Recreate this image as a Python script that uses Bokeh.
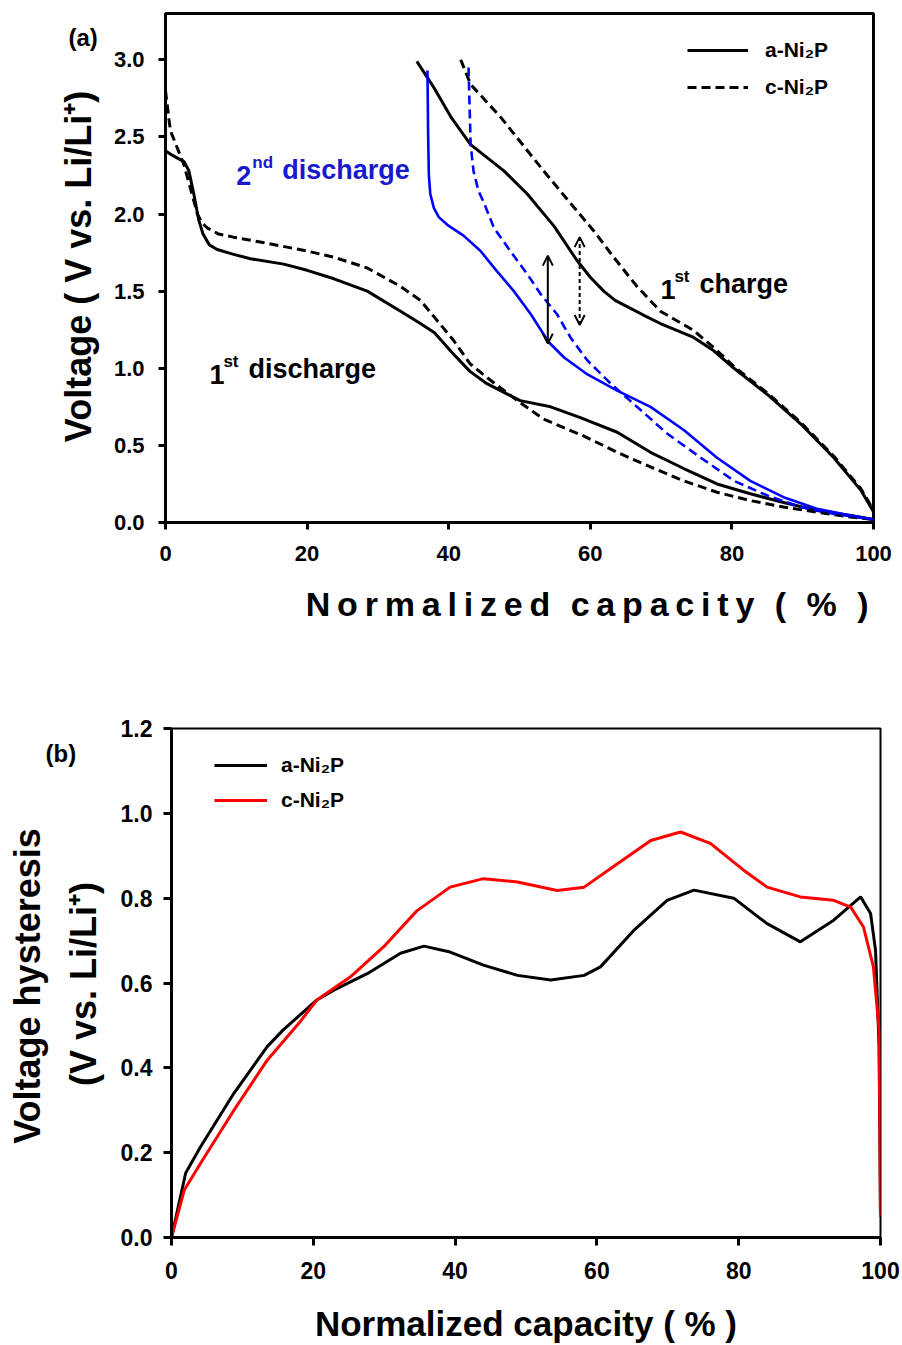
import math
from bokeh.plotting import figure
from bokeh.models import (Range1d, FixedTicker, NumeralTickFormatter, Label, Arrow, OpenHead,
                          Legend, LegendItem, Title)
from bokeh.layouts import column, row
from bokeh.embed import file_html
from bokeh.resources import INLINE

# ---------------- data: panel (a) ----------------
a_dis1_x = [0, 0, 1.0, 2.6, 3.3, 4.0, 4.7, 5.3, 6.2, 7.3, 9.5, 12, 16.7, 20, 23.8, 28.5, 33.2, 36, 38, 40.5, 43, 45.4, 50.1, 54.4, 58.6, 63.8, 68.5, 73.2, 77.9, 82.6, 87.3, 92, 96.8, 100]
a_dis1_v = [2.75, 2.41, 2.38, 2.34, 2.28, 2.13, 1.96, 1.87, 1.80, 1.77, 1.74, 1.71, 1.675, 1.635, 1.58, 1.50, 1.37, 1.29, 1.23, 1.10, 0.98, 0.90, 0.79, 0.75, 0.68, 0.585, 0.455, 0.35, 0.25, 0.186, 0.13, 0.078, 0.045, 0.02]

c_dis1_x = [0, 0.5, 0.7, 1.65, 2.6, 3.5, 4.5, 5.2, 5.9, 7.5, 9.6, 14.4, 20, 23.8, 28.5, 33.2, 36, 38, 40.7, 43, 45.4, 49.7, 53.4, 59.1, 63.8, 68.5, 73.2, 77.9, 82.6, 87.3, 92, 96.8, 100]
c_dis1_v = [2.80, 2.61, 2.54, 2.43, 2.32, 2.17, 2.0, 1.94, 1.91, 1.87, 1.85, 1.81, 1.76, 1.72, 1.65, 1.53, 1.44, 1.33, 1.18, 1.03, 0.94, 0.79, 0.67, 0.56, 0.455, 0.36, 0.27, 0.196, 0.142, 0.10, 0.067, 0.035, 0.02]

a_ch1_x = [35.5, 37.9, 40.3, 43.1, 47.8, 51.1, 54.9, 58.1, 60.0, 61.9, 63.5, 65.2, 67.5, 69.9, 74.6, 77.4, 80.3, 85, 89.7, 94.4, 98.2, 100]
a_ch1_v = [2.99, 2.82, 2.63, 2.45, 2.28, 2.13, 1.92, 1.70, 1.59, 1.50, 1.44, 1.40, 1.345, 1.29, 1.20, 1.115, 1.0, 0.83, 0.64, 0.42, 0.21, 0.07]

c_ch1_x = [41.7, 43.1, 47.3, 53.4, 57.2, 60.5, 63.3, 66.6, 69.9, 74.6, 77.9, 80.3, 85, 89.7, 94.4, 98.2, 100]
c_ch1_v = [3.0, 2.84, 2.63, 2.28, 2.07, 1.89, 1.72, 1.53, 1.37, 1.245, 1.115, 1.01, 0.84, 0.65, 0.43, 0.22, 0.08]

a_dis2_x = [37.0, 37.1, 37.2, 37.4, 37.9, 38.6, 39.8, 42.1, 44.5, 46.8, 49.2, 51.6, 54.1, 56.3, 59.6, 63.8, 68.5, 73.2, 77.9, 82.6, 87.3, 92, 96.8, 100]
a_dis2_v = [2.93, 2.50, 2.25, 2.13, 2.04, 1.98, 1.93, 1.86, 1.76, 1.63, 1.50, 1.35, 1.17, 1.07, 0.96, 0.855, 0.75, 0.60, 0.42, 0.27, 0.164, 0.089, 0.045, 0.02]

c_dis2_x = [42.8, 43.1, 43.5, 44.2, 45.0, 46.4, 48.7, 51.1, 53.0, 55.3, 57.2, 59.6, 62.9, 66.1, 70.9, 75.6, 80.3, 85, 89.7, 94.4, 100]
c_dis2_v = [2.95, 2.45, 2.28, 2.15, 2.07, 1.91, 1.76, 1.61, 1.48, 1.35, 1.20, 1.05, 0.90, 0.77, 0.575, 0.42, 0.27, 0.175, 0.10, 0.056, 0.02]

# hysteresis arrows (x position, low, high)
arrow_x = [54.0, 58.5]
arrow_lo = [1.16, 1.28]
arrow_hi = [1.73, 1.85]

a_ticks_x = [0, 20, 40, 60, 80, 100]
a_ticks_y = [0.0, 0.5, 1.0, 1.5, 2.0, 2.5, 3.0]

# ---------------- data: panel (b) ----------------
a_hys_x = [0, 2.0, 4.1, 8.8, 13.5, 15.8, 20.5, 22.9, 27.6, 32.3, 35.6, 39.3, 44, 48.8, 53.5, 58.2, 60.5, 65.2, 69.9, 73.7, 79.3, 84, 88.7, 93.4, 97.2, 98.6, 99.3, 99.8, 100]
a_hys_v = [0, 0.152, 0.214, 0.34, 0.45, 0.49, 0.56, 0.583, 0.622, 0.67, 0.687, 0.673, 0.642, 0.618, 0.607, 0.618, 0.638, 0.724, 0.795, 0.819, 0.80, 0.74, 0.697, 0.748, 0.803, 0.764, 0.677, 0.45, 0.05]

c_hys_x = [0, 1.8, 4.1, 8.8, 13.5, 18.2, 20.5, 25.2, 29.9, 34.6, 39.3, 44, 48.8, 54.4, 58.2, 62.9, 67.6, 71.8, 76, 80.7, 84, 88.7, 93.4, 95.8, 97.6, 99, 99.8, 100]
c_hys_v = [0, 0.112, 0.175, 0.30, 0.418, 0.51, 0.56, 0.614, 0.685, 0.77, 0.826, 0.846, 0.838, 0.818, 0.826, 0.881, 0.936, 0.956, 0.929, 0.866, 0.826, 0.803, 0.795, 0.779, 0.732, 0.638, 0.489, 0.05]

b_ticks_x = [0, 20, 40, 60, 80, 100]
b_ticks_y = [0.0, 0.2, 0.4, 0.6, 0.8, 1.0, 1.2]

FONT = "Liberation Sans"
BLUE = "#0000ff"
BLUE_TXT = "#1818cc"


def style_axes(p, xt, yt, tick_size, yfmt):
    p.xgrid.visible = False
    p.ygrid.visible = False
    p.xaxis.ticker = FixedTicker(ticks=xt)
    p.yaxis.ticker = FixedTicker(ticks=yt)
    p.xaxis.formatter = NumeralTickFormatter(format="0")
    p.yaxis.formatter = NumeralTickFormatter(format=yfmt)
    for ax in (p.xaxis, p.yaxis):
        ax.axis_line_width = 3
        ax.axis_line_color = "black"
        ax.major_tick_line_width = 3
        ax.major_tick_in = 0
        ax.major_tick_out = 7
        ax.minor_tick_line_color = None
        ax.major_label_text_font = FONT
        ax.major_label_text_font_style = "bold"
        ax.major_label_text_font_size = tick_size
        ax.major_label_text_color = "black"


def lab(p, x, y, text, size, color="black", **kw):
    p.add_layout(Label(x=x, y=y, text=text, text_font=FONT, text_font_style="bold",
                       text_font_size=size, text_color=color, **kw))


def strip(w, h, top, bottom):
    # plain text strip left of the plot; its frame is aligned with the plot frame,
    # so the y range is given in page pixels (top..bottom of that frame)
    s = figure(width=w, height=h, x_range=Range1d(0, w), y_range=Range1d(bottom, top),
               x_axis_type=None, y_axis_type=None, output_backend="svg", toolbar_location=None,
               min_border=0, min_border_left=0, min_border_right=0, min_border_top=0, min_border_bottom=0)
    s.outline_line_color = None
    s.grid.visible = False
    return s


# ================= panel (a) =================
SA_W, H_A = 106, 660
sa = strip(SA_W, H_A, 13, 522)
lab(sa, 68, 37, "(a)", "24px", text_baseline="middle")
lab(sa, 78, 266, "Voltage ( V vs. Li/Li\u207a)", "36px", angle=math.pi / 2,
    text_align="center", text_baseline="middle")

p1 = figure(width=902 - SA_W, height=H_A, x_range=Range1d(0, 100), y_range=Range1d(0, 3.3),
            output_backend="svg", toolbar_location=None,
            min_border_left=165 - SA_W, min_border_right=29, min_border_top=13, min_border_bottom=138)
p1.outline_line_color = "black"
p1.outline_line_width = 3
style_axes(p1, a_ticks_x, a_ticks_y, "22px", "0.0")
p1.xaxis.major_label_standoff = 16
p1.yaxis.major_label_standoff = 14

r_a1 = p1.line(a_dis1_x, a_dis1_v, line_color="black", line_width=3)
r_c1 = p1.line(c_dis1_x, c_dis1_v, line_color="black", line_width=3, line_dash="9 5")
p1.line(a_ch1_x, a_ch1_v, line_color="black", line_width=3)
p1.line(c_ch1_x, c_ch1_v, line_color="black", line_width=3, line_dash="9 5")
p1.line(a_dis2_x, a_dis2_v, line_color=BLUE, line_width=2.6)
p1.line(c_dis2_x, c_dis2_v, line_color=BLUE, line_width=2.6, line_dash="9 5")

for i, dash in enumerate(["solid", "4 3"]):
    p1.add_layout(Arrow(x_start=arrow_x[i], y_start=arrow_lo[i], x_end=arrow_x[i], y_end=arrow_hi[i],
                        line_width=2, line_dash=dash, line_color="black",
                        start=OpenHead(size=10, line_width=2, line_color="black"),
                        end=OpenHead(size=10, line_width=2, line_color="black")))

leg1 = Legend(items=[LegendItem(label="a-Ni\u2082P", renderers=[r_a1]),
                     LegendItem(label="c-Ni\u2082P", renderers=[r_c1])],
              location=(522, 422), padding=0, margin=0, spacing=11,
              glyph_width=61, glyph_height=26, label_height=26, label_standoff=17,
              label_text_font=FONT, label_text_font_style="bold", label_text_font_size="21px",
              label_text_color="black", border_line_alpha=0, background_fill_alpha=0)
p1.add_layout(leg1)

# in-plot annotations
lab(p1, 6.2, 0.895, "1", "27px")
lab(p1, 6.2, 0.895, "st", "17px", x_offset=14, y_offset=13)
lab(p1, 6.2, 0.895, "discharge", "27px", x_offset=39)

lab(p1, 10.0, 2.185, "2", "27px", BLUE_TXT)
lab(p1, 10.0, 2.185, "nd", "17px", BLUE_TXT, x_offset=16, y_offset=13)
lab(p1, 10.0, 2.185, "discharge", "27px", BLUE_TXT, x_offset=46)

lab(p1, 69.9, 1.452, "1", "27px")
lab(p1, 69.9, 1.452, "st", "17px", x_offset=14, y_offset=13)
lab(p1, 69.9, 1.452, "charge", "27px", x_offset=39)

# letter-spaced x title of panel (a), right-aligned like the original
ts = "\u2009"
xtitle_a = ts.join("Normalized") + ts * 3 + ts.join("capacity") + ts * 3 + "(" + ts * 3 + "%" + ts * 3 + ")"
p1.add_layout(Title(text=xtitle_a, align="right", offset=5, standoff=39,
                    text_font=FONT, text_font_style="bold", text_font_size="34px",
                    text_color="black"), "below")

# ================= panel (b) =================
SB_W, H_B = 105, 685
sb = strip(SB_W, H_B, 728, 1238)
lab(sb, 45, 753, "(b)", "24px", text_baseline="middle")
lab(sb, 27, 986, "Voltage hysteresis", "36px", angle=math.pi / 2,
    text_align="center", text_baseline="middle")
lab(sb, 83, 984, "(V vs. Li/Li\u207a)", "36px", angle=math.pi / 2,
    text_align="center", text_baseline="middle")

p2 = figure(width=902 - SB_W, height=H_B, x_range=Range1d(0, 100), y_range=Range1d(0, 1.2),
            output_backend="svg", toolbar_location=None,
            min_border_left=171 - SB_W, min_border_right=22, min_border_top=68, min_border_bottom=107)
p2.outline_line_color = "black"
p2.outline_line_width = 2
style_axes(p2, b_ticks_x, b_ticks_y, "23px", "0.0")
p2.xaxis.major_tick_out = 8
p2.yaxis.major_tick_out = 8
p2.xaxis.major_label_standoff = 16
p2.yaxis.major_label_standoff = 11
p2.xaxis.axis_label = "Normalized capacity ( % )"
p2.xaxis.axis_label_text_font = FONT
p2.xaxis.axis_label_text_font_style = "bold"
p2.xaxis.axis_label_text_font_size = "35px"
p2.xaxis.axis_label_text_color = "black"
p2.xaxis.axis_label_standoff = 22

r_ah = p2.line(a_hys_x, a_hys_v, line_color="black", line_width=3)
r_ch = p2.line(c_hys_x, c_hys_v, line_color="#ff0000", line_width=3)

leg2 = Legend(items=[LegendItem(label="a-Ni\u2082P", renderers=[r_ah]),
                     LegendItem(label="c-Ni\u2082P", renderers=[r_ch])],
              location=(43, 424), padding=0, margin=0, spacing=9,
              glyph_width=53, glyph_height=26, label_height=26, label_standoff=14,
              label_text_font=FONT, label_text_font_style="bold", label_text_font_size="21px",
              label_text_color="black", border_line_alpha=0, background_fill_alpha=0)
p2.add_layout(leg2)

layout = column(row(sa, p1, spacing=0), row(sb, p2, spacing=0), spacing=0)
open("out.html", "w").write(file_html(layout, INLINE))
